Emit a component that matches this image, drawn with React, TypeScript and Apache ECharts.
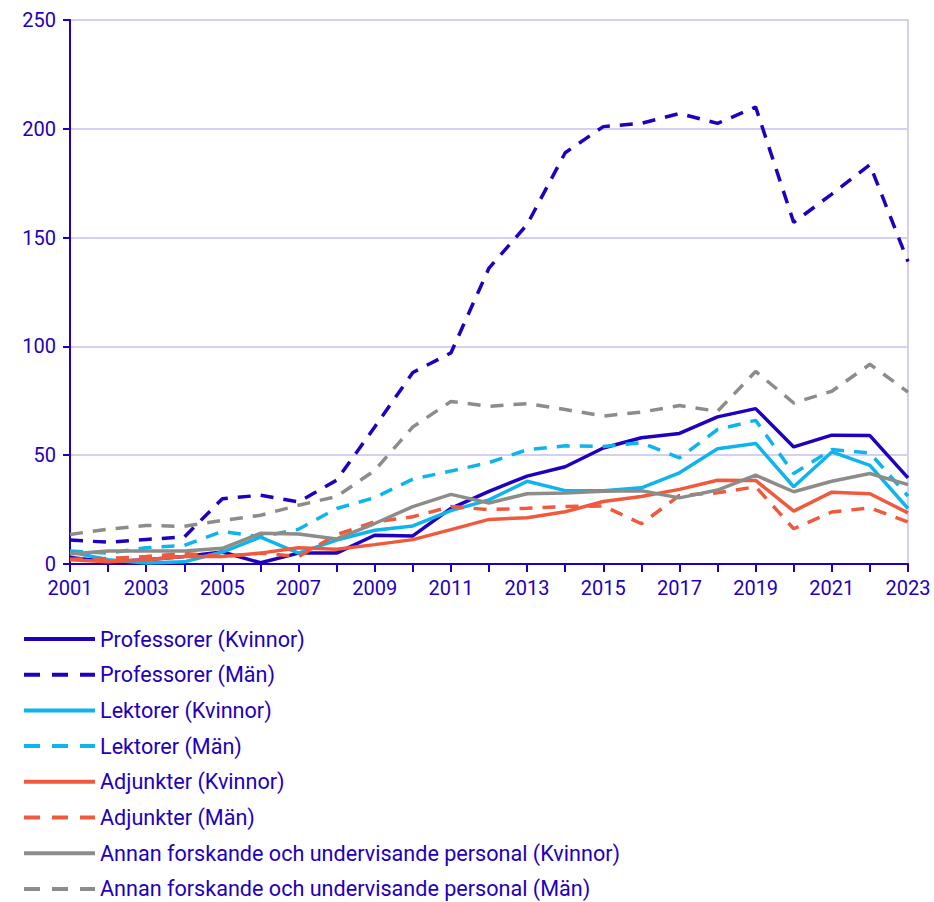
import React, { useEffect, useRef } from "react";
import * as echarts from "echarts";

const years = ["2001","2002","2003","2004","2005","2006","2007","2008","2009","2010","2011","2012","2013","2014","2015","2016","2017","2018","2019","2020","2021","2022","2023"];

const profK = [3, 1, 2, 3.5, 5.5, 0.6, 5, 5, 13.2, 12.9, 25.6, 33.4, 40.4, 44.7, 53.3, 58, 60, 67.6, 71.4, 53.8, 59.2, 59, 39.6];
const profM = [11, 10, 11.3, 12.4, 30, 31.6, 28.5, 38.5, 63, 88, 97, 136, 156, 189, 201, 202.5, 207, 202.5, 210, 157, 170, 183.5, 139];
const lekK = [5.5, 2, 0.5, 1, 5.5, 12.3, 5, 11, 15.5, 17.5, 24.5, 29.5, 38, 33.7, 33.7, 35, 41.9, 53, 55.4, 35.5, 51.5, 45.3, 25.5];
const lekM = [6, 5, 7.5, 8.5, 15, 12.5, 16, 25.5, 30.5, 39, 42.7, 46.6, 52.5, 54.3, 54, 55.7, 48.8, 61.8, 66, 41.6, 52.6, 51, 31.2];
const adjK = [2, 1, 2, 3.5, 3.5, 5, 7.5, 6.8, 8.9, 11.2, 15.8, 20.5, 21.3, 24, 28.7, 31, 34.3, 38.5, 38.4, 24.3, 33, 32.3, 23.5];
const adjM = [2.2, 2.6, 3.4, 4.9, 3.4, 5, 3.4, 13.5, 19.4, 21.7, 26.4, 25, 25.6, 26.4, 26.7, 18.5, 31.5, 32.7, 35.5, 16.2, 23.9, 25.8, 19.3];
const annK = [4.6, 6, 6, 6, 7.2, 14.1, 13.8, 11.5, 18.6, 26.4, 32, 28, 32.3, 32.6, 33.4, 33.7, 30.4, 34, 40.8, 33.2, 38, 41.6, 36.5];
const annM = [13.6, 16, 17.7, 17.3, 20, 22.4, 27, 31, 43, 63, 74.7, 72.5, 73.7, 71, 68, 69.8, 72.8, 70.2, 88.5, 74, 79.4, 91.8, 79];

const seriesNames = [
  "Professorer (Kvinnor)",
  "Professorer (Män)",
  "Lektorer (Kvinnor)",
  "Lektorer (Män)",
  "Adjunkter (Kvinnor)",
  "Adjunkter (Män)",
  "Annan forskande och undervisande personal (Kvinnor)",
  "Annan forskande och undervisande personal (Män)",
];
const seriesData = [profK, profM, lekK, lekM, adjK, adjM, annK, annM];

const DARK = "#1e00be";
const LIGHT = "#0fb4ec";
const ORANGE = "#f05a3c";
const GRAY = "#8c8c88";
const GRID = "#d2d2f0";
const colors = [DARK, DARK, LIGHT, LIGHT, ORANGE, ORANGE, GRAY, GRAY];

export default function App() {
  const ref = useRef<HTMLDivElement>(null);
  useEffect(() => {
    if (!ref.current) return;
    const chart = echarts.init(ref.current, null, { renderer: "svg" });
    const font = "Roboto, 'Noto Sans', sans-serif";
    chart.setOption({
      animation: false,
      textStyle: { fontFamily: font },
      grid: { left: 70, right: 26, top: 20, bottom: 338, containLabel: false },
      legend: {
        orient: "vertical",
        left: 22,
        top: 628,
        height: 300,
        padding: 0,
        itemWidth: 71,
        itemHeight: 20,
        itemGap: 13.7,
        textStyle: { fontSize: 21.6, color: DARK, fontFamily: font },
        itemStyle: { color: "rgba(0,0,0,0)", borderWidth: 0, opacity: 0 },
        data: seriesNames.map((name, i) => ({
          name,
          itemStyle: { color: "rgba(0,0,0,0)", borderWidth: 0, opacity: 0 },
          lineStyle: {
            color: colors[i],
            width: 4,
            type: i % 2 === 1 ? [16, 12] : "solid",
          },
        })),
      },
      xAxis: {
        type: "category",
        data: years,
        boundaryGap: false,
        axisLine: { lineStyle: { color: DARK, width: 2 } },
        axisTick: { show: true, interval: 0, length: 8, lineStyle: { color: DARK, width: 2 } },
        axisLabel: { interval: 1, color: DARK, fontSize: 20, margin: 14, fontFamily: font },
        splitLine: { show: false },
      },
      yAxis: [
        {
          type: "value",
          min: 0,
          max: 250,
          interval: 50,
          axisLine: { show: true, lineStyle: { color: DARK, width: 2 } },
          axisTick: { show: true, length: 7, lineStyle: { color: DARK, width: 2 } },
          axisLabel: { color: DARK, fontSize: 20, margin: 14, fontFamily: font },
          splitLine: { show: true, lineStyle: { color: GRID, width: 2 } },
        },
        {
          type: "value",
          position: "right",
          min: 0,
          max: 250,
          interval: 50,
          axisLine: { show: true, lineStyle: { color: GRID, width: 2 } },
          axisTick: { show: false },
          axisLabel: { show: false },
          splitLine: { show: false },
        },
      ],
      series: seriesNames.map((name, i) => ({
        name,
        type: "line",
        data: seriesData[i],
        symbol: "none",
        showSymbol: false,
        color: colors[i],
        lineStyle: {
          color: colors[i],
          width: 3.5,
          type: i % 2 === 1 ? [13, 10] : "solid",
        },
        itemStyle: { color: colors[i] },
      })),
    });
    return () => chart.dispose();
  }, []);
  return <div ref={ref} style={{ width: 934, height: 902, position: "absolute", left: 0, top: 0 }} />;
}
